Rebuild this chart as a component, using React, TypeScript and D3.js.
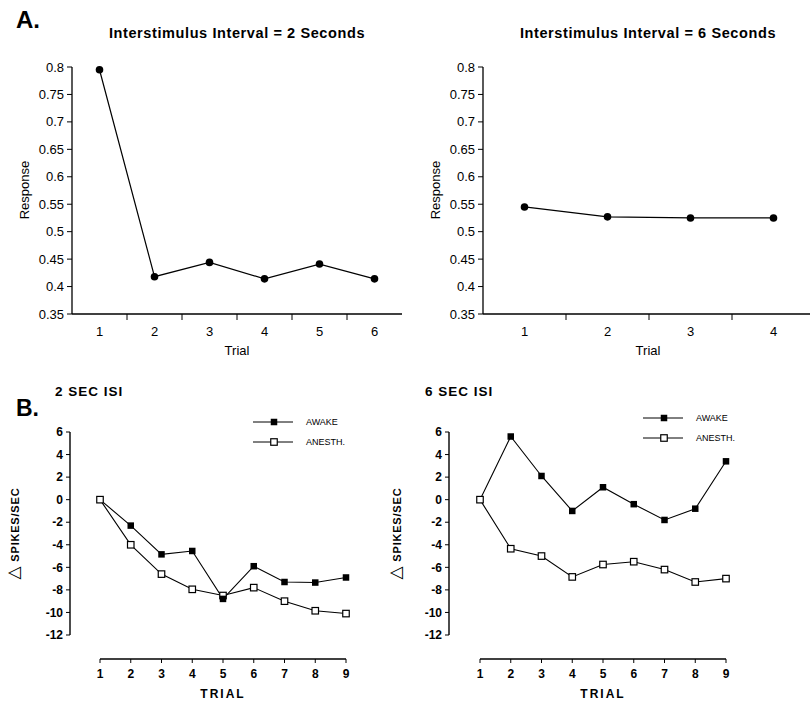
import React from "react";
import * as d3 from "d3";

const trials2s = ["1", "2", "3", "4", "5", "6"];
const response2s = [0.795, 0.418, 0.444, 0.414, 0.441, 0.414];
const trials6s = ["1", "2", "3", "4"];
const response6s = [0.545, 0.527, 0.525, 0.525];
const responseTicks = [0.35, 0.4, 0.45, 0.5, 0.55, 0.6, 0.65, 0.7, 0.75, 0.8];

const trialsB = [1, 2, 3, 4, 5, 6, 7, 8, 9];
const awake2 = [0, -2.3, -4.85, -4.55, -8.8, -5.9, -7.3, -7.35, -6.9];
const anesth2 = [0, -4.0, -6.6, -7.95, -8.5, -7.8, -9.0, -9.85, -10.1];
const awake6 = [0, 5.6, 2.1, -1.0, 1.1, -0.4, -1.8, -0.8, 3.4];
const anesth6 = [0, -4.35, -5.0, -6.85, -5.75, -5.5, -6.2, -7.3, -7.0];
const spikeTicks = [6, 4, 2, 0, -2, -4, -6, -8, -10, -12];

const FONT = "'Liberation Sans', Arial, Helvetica, sans-serif";

function TopPanel({ title, cats, vals, x0, x1, titleX }: any) {
  const x = d3.scaleBand<string>().domain(cats).range([x0, x1]);
  const y = d3.scaleLinear().domain([0.35, 0.8]).range([314, 67]);
  const bw = x.bandwidth();
  const line = d3
    .line<number>()
    .x((_, i) => (x(cats[i]) as number) + bw / 2)
    .y((d) => y(d));
  return (
    <g fontFamily={FONT}>
      <text
        x={titleX}
        y={38}
        textAnchor="middle"
        fontWeight="bold"
        fontSize={14.5}
        letterSpacing={0.6}
      >
        {title}
      </text>
      <line x1={x0} x2={x0} y1={y(0.8)} y2={y(0.35)} stroke="#000" strokeWidth={1.3} />
      {responseTicks.map((t) => (
        <g key={t}>
          <line x1={x0 - 5} x2={x0} y1={y(t)} y2={y(t)} stroke="#000" />
          <text x={x0 - 8} y={y(t)} dy="0.35em" textAnchor="end" fontSize={13}>
            {String(t)}
          </text>
        </g>
      ))}
      <line x1={x0} x2={x1} y1={y(0.35)} y2={y(0.35)} stroke="#000" strokeWidth={1.3} />
      {cats.map((c: string, i: number) => (
        <g key={c}>
          {i > 0 && (
            <line
              x1={x(c) as number}
              x2={x(c) as number}
              y1={y(0.35)}
              y2={y(0.35) + 6}
              stroke="#000"
            />
          )}
          <text x={(x(c) as number) + bw / 2} y={336} textAnchor="middle" fontSize={13}>
            {c}
          </text>
        </g>
      ))}
      <text x={titleX} y={355} textAnchor="middle" fontSize={13}>
        Trial
      </text>
      <text
        transform={`translate(${x0 - 43},${190}) rotate(-90)`}
        textAnchor="middle"
        fontSize={13}
      >
        Response
      </text>
      <path d={line(vals) as string} fill="none" stroke="#000" strokeWidth={1.2} />
      {vals.map((v: number, i: number) => (
        <circle key={i} cx={(x(cats[i]) as number) + bw / 2} cy={y(v)} r={3.8} fill="#000" />
      ))}
    </g>
  );
}

function BottomPanel({ title, awake, anesth, yAxisX, xa0, xa1, titleX, legX, legY, labelX }: any) {
  const x = d3.scaleLinear().domain([1, 9]).range([xa0, xa1]);
  const y = d3.scaleLinear().domain([-12, 6]).range([635, 432]);
  const line = d3
    .line<number>()
    .x((_, i) => x(trialsB[i]))
    .y((d) => y(d));
  const s = 6.5;
  return (
    <g fontFamily={FONT}>
      <text x={titleX} y={396} fontWeight="bold" fontSize={13.5} letterSpacing={1}>
        {title}
      </text>
      {/* legend */}
      <line x1={legX} x2={legX + 40} y1={legY} y2={legY} stroke="#000" strokeWidth={1} />
      <rect x={legX + 21 - s / 2} y={legY - s / 2} width={s} height={s} fill="#000" />
      <text x={legX + 53} y={legY} dy="0.35em" fontSize={9}>
        AWAKE
      </text>
      <line x1={legX} x2={legX + 40} y1={legY + 20} y2={legY + 20} stroke="#000" strokeWidth={1} />
      <rect
        x={legX + 21 - s / 2}
        y={legY + 20 - s / 2}
        width={s}
        height={s}
        fill="#fff"
        stroke="#000"
        strokeWidth={1.2}
      />
      <text x={legX + 53} y={legY + 20} dy="0.35em" fontSize={9}>
        ANESTH.
      </text>
      {/* y axis */}
      <line x1={yAxisX} x2={yAxisX} y1={y(6)} y2={y(-12)} stroke="#000" strokeWidth={1.4} />
      {spikeTicks.map((t) => (
        <g key={t}>
          <line x1={yAxisX - 4} x2={yAxisX} y1={y(t)} y2={y(t)} stroke="#000" />
          <text
            x={yAxisX - 7}
            y={y(t)}
            dy="0.35em"
            textAnchor="end"
            fontSize={12}
            fontWeight="bold"
          >
            {String(t)}
          </text>
        </g>
      ))}
      <text
        transform={`translate(${labelX},${y(-3)}) rotate(-90)`}
        textAnchor="middle"
        fontSize={11}
        fontWeight="bold"
        letterSpacing={0.8}
      >
        <tspan fontFamily="'DejaVu Sans', sans-serif" fontWeight="normal" fontSize={17}>
          △
        </tspan>
        <tspan> SPIKES/SEC</tspan>
      </text>
      {/* x axis */}
      <line x1={xa0} x2={xa1} y1={659} y2={659} stroke="#000" strokeWidth={1.4} />
      {trialsB.map((t) => (
        <g key={t}>
          <line x1={x(t)} x2={x(t)} y1={659} y2={663} stroke="#000" />
          <text x={x(t)} y={678} textAnchor="middle" fontSize={12} fontWeight="bold">
            {t}
          </text>
        </g>
      ))}
      <text
        x={(xa0 + xa1) / 2}
        y={698}
        textAnchor="middle"
        fontSize={12}
        fontWeight="bold"
        letterSpacing={2}
      >
        TRIAL
      </text>
      {/* lines */}
      <path d={line(awake) as string} fill="none" stroke="#000" strokeWidth={1.1} />
      <path d={line(anesth) as string} fill="none" stroke="#000" strokeWidth={1.1} />
      {anesth.map((v: number, i: number) => (
        <rect
          key={"n" + i}
          x={x(trialsB[i]) - s / 2}
          y={y(v) - s / 2}
          width={s}
          height={s}
          fill="#fff"
          stroke="#000"
          strokeWidth={1.2}
        />
      ))}
      {awake.map((v: number, i: number) =>
        i === 0 ? null : (
          <rect
            key={"a" + i}
            x={x(trialsB[i]) - s / 2}
            y={y(v) - s / 2}
            width={s}
            height={s}
            fill="#000"
          />
        )
      )}
    </g>
  );
}

export default function App() {
  return (
    <svg
      width={810}
      height={701}
      style={{ position: "absolute", left: 0, top: 0, background: "#fff" }}
    >
      <rect width={810} height={701} fill="#fff" />
      <text x={16} y={28} fontFamily={FONT} fontWeight="bold" fontSize={24}>
        A.
      </text>
      <text x={16} y={416} fontFamily={FONT} fontWeight="bold" fontSize={23}>
        B.
      </text>
      <TopPanel
        title="Interstimulus Interval = 2 Seconds"
        cats={trials2s}
        vals={response2s}
        x0={72}
        x1={402}
        titleX={237}
      />
      <TopPanel
        title="Interstimulus Interval = 6 Seconds"
        cats={trials6s}
        vals={response6s}
        x0={483}
        x1={815}
        titleX={648}
      />
      <BottomPanel
        title="2 SEC ISI"
        awake={awake2}
        anesth={anesth2}
        yAxisX={70}
        xa0={100}
        xa1={346}
        titleX={55}
        legX={253}
        legY={422}
        labelX={19}
      />
      <BottomPanel
        title="6 SEC ISI"
        awake={awake6}
        anesth={anesth6}
        yAxisX={449}
        xa0={480}
        xa1={726}
        titleX={425}
        legX={643}
        legY={418}
        labelX={401}
      />
    </svg>
  );
}
